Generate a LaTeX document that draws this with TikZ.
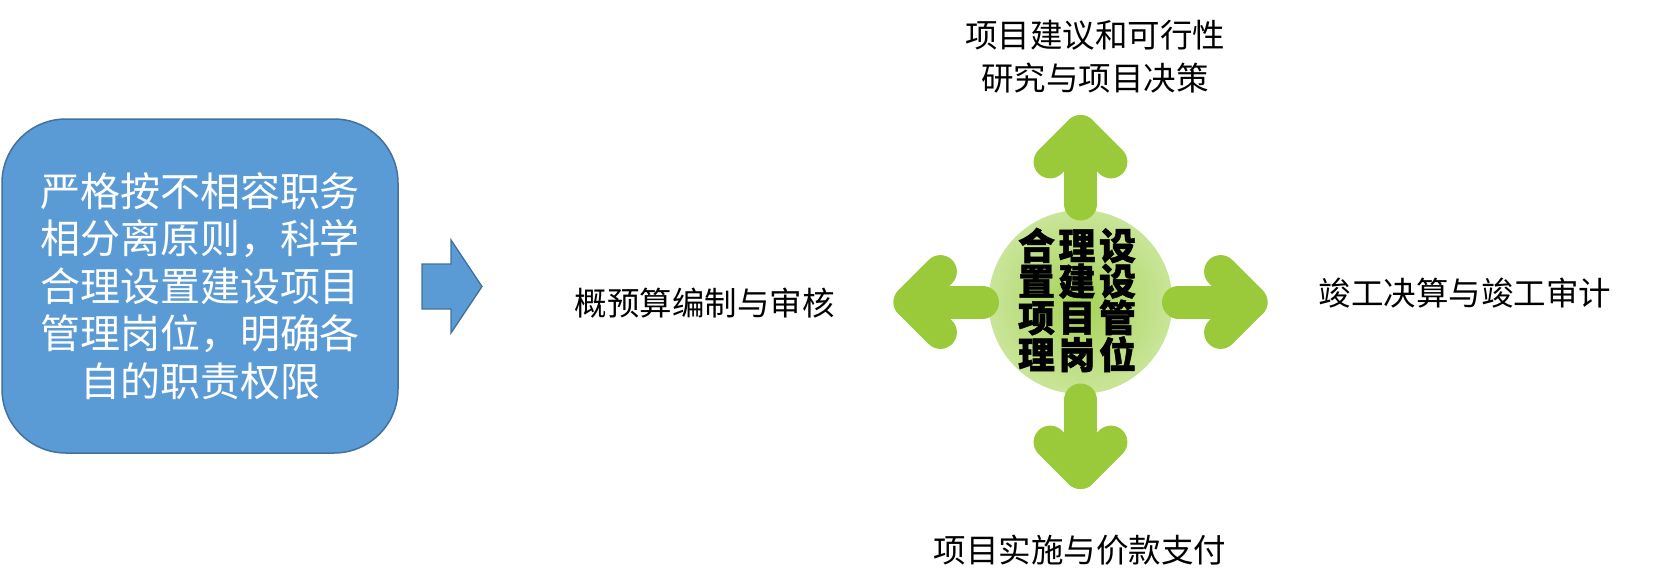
\documentclass[tikz,border=0pt]{standalone}
\usepackage{fontspec}
\newfontfamily\cjk{Noto Sans CJK SC}
\newfontfamily\cjkheavy[BoldFeatures={FakeBold=1.3}]{Noto Sans CJK SC}
\usetikzlibrary{calc}
\definecolor{boxblue}{HTML}{5B9BD5}
\definecolor{boxedge}{HTML}{41719C}
\definecolor{leaf}{RGB}{154,202,58}
\definecolor{glowin}{RGB}{165,210,85}
\definecolor{glowmid}{RGB}{200,228,150}
\definecolor{glowout}{RGB}{240,247,230}
\pgfdeclareradialshading{glow}{\pgfpointorigin}{color(0bp)=(glowin); color(24bp)=(glowmid); color(50bp)=(glowout)}
\tikzset{
  bluebox/.style={draw=boxedge, line width=1.5pt, fill=boxblue, rounded corners=64pt,
    minimum width=396pt, minimum height=334pt, inner sep=0pt, align=center, text=white,
    font=\cjk\fontsize{40}{47.5}\selectfont},
  bluearrow/.style={draw=boxedge, line width=1.3pt, fill=boxblue, line join=miter},
  garrow/.style={draw=leaf, line width=33pt, line cap=round, line join=round},
  label/.style={font=\cjk\fontsize{32.5}{43}\selectfont, text=black, align=center, inner sep=0pt},
  hub/.style={font=\cjkheavy\bfseries\fontsize{37}{35.5}\selectfont, text=black, align=center, inner sep=0pt}
}
\newcommand{\gap}{\kern3.5pt}
\begin{document}
\begin{tikzpicture}[x=1pt,y=-1pt]
\useasboundingbox (0,0) rectangle (1674,587);
% left box
\node[bluebox] (box) at (200,286) {严格按不相容职务\\相分离原则，科学\\合理设置建设项目\\管理岗位，明确各\\自的职责权限};
% blue block arrow
\coordinate (ba1) at (422,264);
\coordinate (ba2) at (451,264);
\coordinate (ba3) at (451,240);
\coordinate (ba4) at (482,286.5);
\coordinate (ba5) at (451,333);
\coordinate (ba6) at (451,309);
\coordinate (ba7) at (422,309);
\draw[bluearrow] (ba1) -- (ba2) -- (ba3) -- (ba4) -- (ba5) -- (ba6) -- (ba7) -- cycle;
% hub circle
\coordinate (c) at (1080.5,302);
\shade[shading=glow] (c) circle[radius=92];
% green arrows
\foreach \a in {0,90,180,270}{
  \coordinate (s) at ($(c)+(\a:98)$);
  \coordinate (t) at ($(c)+(\a:170.5)$);
  \coordinate (w1) at ($(t)+(\a+135:43)$);
  \coordinate (w2) at ($(t)+(\a-135:43)$);
  \draw[garrow] (s) -- (t);
  \draw[garrow] (w1) -- (t) -- (w2);
}
% hub text
\node[hub] (hubtext) at (1077,300) {合\gap 理\gap 设\\置\gap 建\gap 设\\项\gap 目\gap 管\\理\gap 岗\gap 位};
% labels
\node[label] (top) at (1095,56.5) {项目建议和可行性\\研究与项目决策};
\node[label] (left) at (704.5,303) {概预算编制与审核};
\node[label] (right) at (1465,293) {竣工决算与竣工审计};
\node[label] (bottom) at (1080,550) {项目实施与价款支付};
\end{tikzpicture}
\end{document}
